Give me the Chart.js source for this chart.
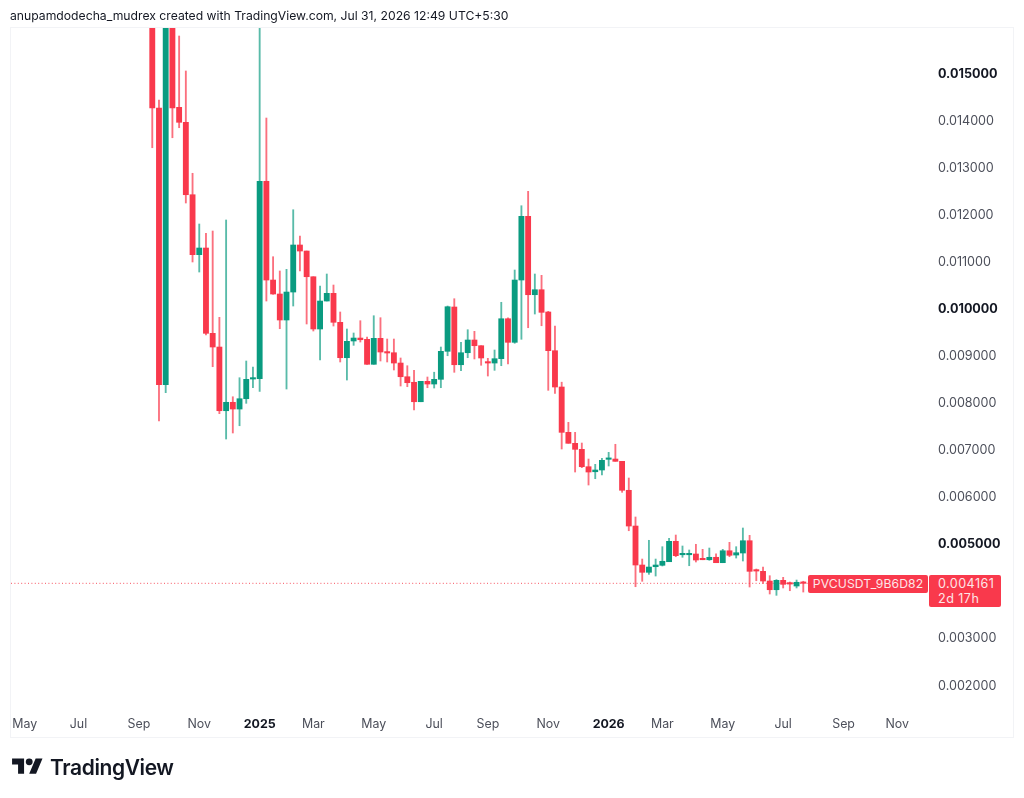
<!DOCTYPE html>
<html><head><meta charset="utf-8">
<script src="https://cdn.jsdelivr.net/npm/chart.js@4"></script>
<style>
html,body{margin:0;padding:0;background:#fff;width:1024px;height:798px;overflow:hidden}
body{position:relative;font-family:Inter,"Liberation Sans",sans-serif}
#c{position:absolute;left:0;top:0}
.abs{position:absolute;white-space:pre}
#frame{left:10px;top:27px;width:1002px;height:709px;border:1px solid #f2f3f6;box-sizing:content-box}
#title{left:10px;top:7px;font-size:12.2px;line-height:17px;color:#131722}
.tag{background:#f9394c;color:#fff;border-radius:2px;font-size:12.2px;letter-spacing:.1px}
#sym{left:808px;top:575px;width:120px;height:17.5px;line-height:17px;text-align:center;color:#fde6e8}
#val{left:929px;top:575px;width:71.5px;height:31.5px;font-size:12.6px;letter-spacing:.45px;line-height:14.5px;padding:2px 0 0 9px;box-sizing:border-box;color:#fde6e8}
#brand{left:50px;top:754px;font-size:21px;line-height:27px;font-weight:600;color:#131722;letter-spacing:-.4px}
#logo{left:12px;top:755px}
</style></head><body>
<canvas id="c" width="1024" height="798"></canvas>
<div id="frame" class="abs"></div>
<div id="title" class="abs">anupamdodecha_mudrex created with TradingView.com, Jul 31, 2026 12:49 UTC+5:30</div>
<div id="sym" class="abs tag">PVCUSDT_9B6D82</div>
<div id="val" class="abs tag">0.004161
2d 17h</div>
<svg id="logo" class="abs" width="31" height="24" viewBox="0 0 36 28"><path fill="#131722" d="M14 22H7V11H0V4h14v18zM28 22h-8l7.5-18h8L28 22z"/><circle fill="#131722" cx="20" cy="8" r="4"/></svg>
<div id="brand" class="abs">TradingView</div>
<script>
// Weekly OHLC (first bar = week 0)
const opens=[0.017100,0.014257,0.008380,0.017100,0.014271,0.013953,0.012415,0.011141,0.011283,0.009471,0.009180,0.007827,0.008006,0.007863,0.008082,0.008500,0.008507,0.012700,0.010603,0.010306,0.009754,0.010348,0.011347,0.011219,0.010673,0.009563,0.010157,0.010321,0.009705,0.008953,0.009308,0.009371,0.009344,0.008813,0.009365,0.009080,0.009059,0.008840,0.008549,0.008431,0.008018,0.008452,0.008394,0.008494,0.009089,0.010030,0.008804,0.009059,0.009329,0.009208,0.008862,0.008840,0.008932,0.009781,0.009280,0.010603,0.011956,0.010291,0.010397,0.009924,0.009102,0.008331,0.007368,0.007135,0.007007,0.006638,0.006531,0.006568,0.006795,0.006801,0.006752,0.006137,0.005378,0.004550,0.004395,0.004514,0.004544,0.004620,0.005053,0.004768,0.004768,0.004784,0.004671,0.004662,0.004714,0.004599,0.004853,0.004762,0.004805,0.005066,0.004450,0.004416,0.004210,0.004025,0.004225,0.004174,0.004104,0.004183];
const highs=[0.017800,0.014427,0.017500,0.017600,0.015786,0.015043,0.012870,0.011793,0.011595,0.011644,0.009811,0.011878,0.008124,0.008528,0.008883,0.008756,0.016600,0.014044,0.011098,0.010795,0.010830,0.012096,0.011538,0.011219,0.010673,0.010476,0.010731,0.010497,0.009924,0.009563,0.009478,0.009739,0.009393,0.009845,0.009803,0.009350,0.009350,0.008947,0.008783,0.008685,0.008452,0.008543,0.008645,0.009180,0.010051,0.010206,0.009280,0.009548,0.009514,0.009208,0.008940,0.009117,0.010130,0.009800,0.010816,0.012181,0.012487,0.010731,0.010703,0.009938,0.009626,0.008433,0.007581,0.007368,0.007141,0.006801,0.006689,0.006816,0.006943,0.007114,0.006752,0.006398,0.005570,0.004677,0.005075,0.004677,0.004939,0.005117,0.005187,0.004954,0.004869,0.004990,0.004883,0.004911,0.004790,0.004883,0.005032,0.004939,0.005336,0.005180,0.004465,0.004507,0.004323,0.004240,0.004289,0.004189,0.004231,0.004205];
const lows=[0.013413,0.007608,0.008210,0.013625,0.013838,0.012239,0.010986,0.010773,0.009435,0.008762,0.007764,0.007226,0.007354,0.007508,0.007984,0.008316,0.008239,0.010157,0.010300,0.009569,0.008288,0.010051,0.010795,0.009669,0.009520,0.008904,0.010157,0.009626,0.008862,0.008479,0.009216,0.009286,0.008813,0.008813,0.008883,0.008862,0.008692,0.008352,0.008337,0.007842,0.008018,0.008316,0.008309,0.008316,0.008995,0.008643,0.008677,0.008953,0.008926,0.008792,0.008564,0.008685,0.008783,0.008819,0.009259,0.009344,0.009590,0.009881,0.009632,0.008260,0.008197,0.007014,0.007135,0.006525,0.006617,0.006249,0.006383,0.006461,0.006653,0.006752,0.006094,0.005278,0.004089,0.004204,0.004352,0.004316,0.004529,0.004620,0.004726,0.004714,0.004535,0.004614,0.004662,0.004650,0.004599,0.004599,0.004726,0.004698,0.004635,0.004083,0.004216,0.004161,0.003934,0.003906,0.004062,0.004004,0.004062,0.003976];
const closes=[0.014257,0.008380,0.017100,0.014257,0.013953,0.012415,0.011141,0.011283,0.009471,0.009180,0.007827,0.008006,0.007863,0.008082,0.008494,0.008511,0.012700,0.010603,0.010306,0.009754,0.010348,0.011347,0.011219,0.010673,0.009563,0.010157,0.010321,0.009705,0.008953,0.009301,0.009371,0.009335,0.008813,0.009365,0.009074,0.009053,0.008840,0.008549,0.008422,0.008018,0.008452,0.008394,0.008494,0.009089,0.010036,0.008804,0.009059,0.009329,0.009208,0.008947,0.008840,0.008932,0.009781,0.009280,0.010603,0.011956,0.010291,0.010397,0.009917,0.009102,0.008331,0.007368,0.007135,0.007007,0.006638,0.006525,0.006568,0.006774,0.006816,0.006752,0.006137,0.005378,0.004550,0.004395,0.004507,0.004550,0.004629,0.005053,0.004748,0.004798,0.004798,0.004656,0.004662,0.004714,0.004599,0.004853,0.004756,0.004811,0.005066,0.004416,0.004422,0.004210,0.004025,0.004225,0.004140,0.004146,0.004183,0.004161];
const lastPrice=0.004161;
const priceTicks=[0.002,0.003,0.005,0.006,0.007,0.008,0.009,0.010,0.011,0.012,0.013,0.014,0.015];
const boldPrices=[0.005,0.010,0.015];
const monthWeeks=[-19,-11,-2,7,16,24,33,42,50,59,68,76,85,94,103,111];
const monthLabels=["May","Jul","Sep","Nov","2025","Mar","May","Jul","Sep","Nov","2026","Mar","May","Jul","Sep","Nov"];
const boldMonths=["2025","2026"];
const xRange=[-21.05,115.73];
const yRange=[0.001428,0.015956];
const UP="#0a9b80",DOWN="#f9394c",UPW="rgba(10,155,128,.68)",DOWNW="rgba(249,57,76,.72)";

const isUp=opens.map((o,i)=>closes[i]>=o);
const font='Inter,"Liberation Sans",sans-serif';
const boldX=c=>!!c.tick&&boldMonths.includes(monthLabels[monthWeeks.indexOf(c.tick.value)]);
const boldY=c=>!!c.tick&&boldPrices.includes(c.tick.value);
new Chart(document.getElementById("c"),{
  data:{datasets:[
    {type:"bar",label:"body",grouped:false,barThickness:5.2,minBarLength:1.4,borderWidth:0,
     data:opens.map((o,i)=>({x:i,y:[Math.min(o,closes[i]),Math.max(o,closes[i])]})),
     backgroundColor:isUp.map(u=>u?UP:DOWN)},
    {type:"bar",label:"wick",grouped:false,barThickness:1.2,borderWidth:0,
     data:highs.map((h,i)=>({x:i,y:[lows[i],h]})),
     backgroundColor:isUp.map(u=>u?UPW:DOWNW)},
    {type:"line",label:"last",data:[{x:xRange[0],y:lastPrice},{x:xRange[1],y:lastPrice}],
     borderColor:"#f7525f",borderWidth:1,borderDash:[1,2.4],pointRadius:0}
  ]},
  options:{
    responsive:false,animation:false,devicePixelRatio:1,
    layout:{padding:{left:11,top:28,right:10,bottom:61}},
    plugins:{legend:{display:false},tooltip:{enabled:false}},
    scales:{
      x:{type:"linear",min:xRange[0],max:xRange[1],offset:false,
        grid:{display:false,drawTicks:false},border:{display:false},
        afterBuildTicks:s=>{s.ticks=monthWeeks.map(v=>({value:v}));},
        afterFit:s=>{s.height=25;},
        ticks:{autoSkip:false,maxRotation:0,minRotation:0,padding:5,
          callback:v=>monthLabels[monthWeeks.indexOf(v)],
          font:c=>({family:font,size:12.4,weight:boldX(c)?"700":"400"}),
          color:c=>boldX(c)?"#131722":"#4c4f5a"}},
      y:{type:"linear",position:"right",min:yRange[0],max:yRange[1],
        grid:{display:false,drawTicks:false},border:{display:false},
        afterBuildTicks:s=>{s.ticks=priceTicks.map(v=>({value:v}));},
        afterFit:s=>{s.width=85;},
        ticks:{autoSkip:false,padding:9,labelOffset:0.7,
          callback:v=>v.toFixed(6),
          font:c=>({family:font,size:12.6,weight:boldY(c)?"700":"400"}),
          color:c=>boldY(c)?"#131722":"#4c4f5a"}}
    }
  }
});
</script>
</body></html>
